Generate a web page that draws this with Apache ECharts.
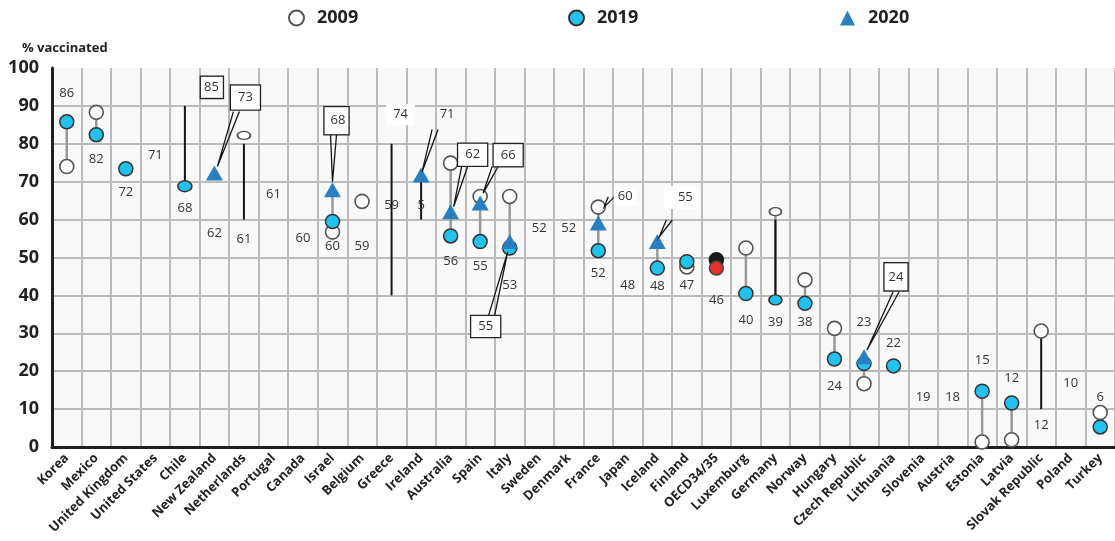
<!DOCTYPE html>
<html><head><meta charset="utf-8">
<script src="https://cdn.jsdelivr.net/npm/echarts@6/dist/echarts.min.js"></script>
<style>html,body{margin:0;padding:0;background:#fff}#c{width:1115px;height:541px}</style>
</head><body><div id="c"></div>
<script>
const categories = ['Korea','Mexico','United Kingdom','United States','Chile','New Zealand','Netherlands','Portugal','Canada','Israel','Belgium','Greece','Ireland','Australia','Spain','Italy','Sweden','Denmark','France','Japan','Iceland','Finland','OECD34/35','Luxemburg','Germany','Norway','Hungary','Czech Republic','Lithuania','Slovenia','Austria','Estonia','Latvia','Slovak Republic','Poland','Turkey'];
const v2009 = [74,88.3,null,null,null,null,82.2,null,null,56.7,64.8,null,null,74.9,66.1,66.1,null,null,63.3,null,null,47.5,49.4,52.5,62.1,44.1,31.3,16.7,null,null,null,1.3,1.9,30.6,null,9.1];
const v2019 = [85.8,82.4,73.4,null,68.8,null,null,null,null,59.5,null,null,null,55.7,54.2,52.5,null,null,51.8,null,47.2,48.9,47.2,40.5,38.8,37.9,23.2,22,21.4,null,null,14.7,11.6,null,null,5.3];
const v2020 = [null,null,null,null,null,72.3,null,null,null,67.9,null,null,71.8,62.1,64.4,54.2,null,null,59.1,null,54.2,null,null,null,null,null,null,23.8,null,null,null,null,null,null,null,null];
const valueLabels = ['86','82','72','71','68','62','61','61','60','60','59','59','5','56','55','53','52','52','52','48','48','47','46','40','39','38','24','23','22','19','18','15','12','12','10','6'];
const labelAt = [93.2,76,67.3,77,63,56.3,54.8,66.7,55.1,52.9,52.9,63.9,63.9,48.9,47.6,42.7,57.7,57.7,45.8,42.7,42.3,42.7,38.8,33.5,33,33,15.9,33,27.3,13.2,13.2,22.9,18,5.7,16.9,13.2];
// callout boxes
const calloutCat = [4,5,9,11,12,13,14,15,18,20,27];
const calloutText = ['85','73','68','74','71','62','66','55','60','55','24'];
const calloutAt = [94.9,92.2,86.1,87.7,87.7,77.1,77,31.8,66.1,65.8,44.9];
// leader lines from 2020 markers to callouts
const leaderCat = [5,9,12,13,14,15,18,20,27];
const leaderFrom = [74,70,72.6,63.4,67,51.5,63.3,55.5,25.6];
const leaderTo = [88.5,82.4,83.8,74,74,34.8,66,59.9,40.9];
// black vertical stems
const stemCat = [4,6,11,12,24,33];
const stemLo = [68.8,60,40,60,38.8,10];
const stemHi = [90,80,80,70,60,30.6];
const yTicks = [0,10,20,30,40,50,60,70,80,90,100];

// ---- styling (not data) ----
const FONT = 'Open Sans';
const BLUE = '#24c1ec', TRI = '#2a7fc1';
const calloutStyle = [
  {dx:27, box:true, pad:[3,4,5,3]},
  {dx:31, box:true, pad:[5,7,6,7]},
  {dx:4, box:true, pad:[8,3,6,6]},
  {dx:9, bg:true, pad:[4,7,4,7]},
  {dx:26},
  {dx:22, box:true, pad:[3,7,6,7]},
  {dx:28, box:true, pad:[3,7,6,7]},
  {dx:-24, box:true, pad:[3,7,5,7]},
  {dx:27, bg:true, pad:[3,4,3,4]},
  {dx:24, bg:true, pad:[5,6,5,14]},
  {dx:32, box:true, pad:[7,4,7,4]}
];
const leaderShift = [[3,22],[0,1],[1,14],[3,14],[3,15],[-2,-18],[6,13],[2,12],[3,32]];
const sizeOverride2009 = {6:[13,8], 24:[12,8]};
const sizeOverride2019 = {4:[14,11], 24:[13,10]};

function pts(arr, sizes, extra){
  const out=[];
  arr.forEach((v,i)=>{ if(v==null) return;
    const d={value:[i,v]};
    if(sizes && sizes[i]) d.symbolSize=sizes[i];
    if(extra && extra[i]) Object.assign(d, extra[i]);
    out.push(d);});
  return out;
}
const connectors=[];
categories.forEach((c,i)=>{
  const vals=[v2009[i],v2019[i],v2020[i]].filter(v=>v!=null);
  if(vals.length>=2) connectors.push([i,Math.min(...vals),Math.max(...vals)]);
});

const chart = echarts.init(document.getElementById('c'));
const legendBase = {top:4, itemWidth:15, itemHeight:15, itemGap:0,
  textStyle:{fontFamily:FONT, fontSize:18, fontWeight:'bold', color:'#222', padding:[0,0,0,8]}};
chart.setOption({
  animation:false,
  title:{text:'% vaccinated', left:17, top:37, textStyle:{fontFamily:FONT, fontSize:13, fontWeight:'bold', color:'#222'}},
  legend:[
    Object.assign({}, legendBase, {left:283, data:['2009']}),
    Object.assign({}, legendBase, {left:563, data:['2019']}),
    Object.assign({}, legendBase, {left:835, data:[{name:'2020', icon:'triangle'}]})
  ],
  grid:{left:52, right:0, top:68, bottom:94, show:true, backgroundColor:'#f9f9f9', borderWidth:0},
  xAxis:{type:'category', data:categories, boundaryGap:true,
    axisLine:{lineStyle:{color:'#231f20', width:3}}, axisTick:{show:false},
    splitLine:{show:true, interval:0, lineStyle:{color:'#bcbcbc', width:2}},
    axisLabel:{interval:0, rotate:45, fontFamily:FONT, fontSize:13, fontWeight:'bold', color:'#222', margin:9}},
  yAxis:{type:'value', min:yTicks[0], max:yTicks[yTicks.length-1], interval:yTicks[1]-yTicks[0],
    axisLine:{show:true, lineStyle:{color:'#231f20', width:3}}, axisTick:{show:false},
    splitLine:{show:true, showMaxLine:false, lineStyle:{color:'#bcbcbc', width:2}},
    axisLabel:{fontFamily:FONT, fontSize:18, fontWeight:'bold', color:'#222', margin:13}},
  series:[
    {type:'custom', name:'conn', z:2, silent:true, data:connectors,
      renderItem:(p,api)=>{const a=api.coord([api.value(0),api.value(1)]), b=api.coord([api.value(0),api.value(2)]);
        return {type:'line', shape:{x1:a[0],y1:a[1],x2:b[0],y2:b[1]}, style:{stroke:'#999', lineWidth:2.5}};}},
    {type:'custom', name:'stems', z:2, silent:true, data:stemCat.map((c,i)=>[c,stemLo[i],stemHi[i]]),
      renderItem:(p,api)=>{const a=api.coord([api.value(0),api.value(1)]), b=api.coord([api.value(0),api.value(2)]);
        return {type:'line', shape:{x1:a[0],y1:a[1],x2:b[0],y2:b[1]}, style:{stroke:'#151515', lineWidth:2}};}},
    {type:'scatter', name:'2009', z:3, symbol:'circle', symbolSize:14,
      itemStyle:{color:'#fff', borderColor:'#555', borderWidth:1.6, opacity:1},
      data:pts(v2009, sizeOverride2009, {22:{itemStyle:{color:'#1a1a1a', borderColor:'#1a1a1a'}}})},
    {type:'scatter', name:'2019', z:4, symbol:'circle', symbolSize:14,
      itemStyle:{color:BLUE, borderColor:'#333', borderWidth:1.5, opacity:1},
      data:pts(v2019, sizeOverride2019, {22:{itemStyle:{color:'#e3302a', borderColor:'#444'}}})},
    {type:'scatter', name:'2020', z:5, symbol:'triangle', symbolSize:[17,15],
      itemStyle:{color:TRI, opacity:1}, data:pts(v2020)},
    {type:'custom', name:'leaders', z:6, silent:true, data:leaderCat.map((c,i)=>[c,leaderFrom[i],leaderTo[i]]),
      renderItem:(p,api)=>{const s=leaderShift[p.dataIndex];
        const a=api.coord([api.value(0),api.value(1)]), b=api.coord([api.value(0),api.value(2)]);
        const x1=a[0]+s[0], x2=b[0]+s[1];
        return {type:'polyline', shape:{points:[[x2-3,b[1]],[x1,a[1]],[x2+3,b[1]]]}, style:{stroke:'#151515', lineWidth:1.3, fill:null}};}},
    {type:'custom', name:'labels', z:7, silent:true,
      data:labelAt.map((v,i)=>[i,v]),
      renderItem:(p,api)=>{const a=api.coord([api.value(0),api.value(1)]);
        return {type:'text', x:a[0], y:a[1], style:{text:valueLabels[p.dataIndex], fontFamily:FONT, fontSize:13,
          fill:'#333', align:'center', verticalAlign:'middle'}};}},
    {type:'custom', name:'callouts', z:8, silent:true,
      data:calloutCat.map((c,i)=>[c,calloutAt[i]]),
      renderItem:(p,api)=>{const st=calloutStyle[p.dataIndex]; const a=api.coord([api.value(0),api.value(1)]);
        const pad=st.pad||[0,0,0,0];
        return {type:'text', x:a[0]+st.dx, y:a[1], style:{text:calloutText[p.dataIndex], fontFamily:FONT, fontSize:13,
          fill:'#333', align:'center', verticalAlign:'middle',
          backgroundColor:(st.box||st.bg)?'#fff':null,
          borderColor:st.box?'#222':null, borderWidth:st.box?1.3:0, padding:pad}};}}
  ]
});
</script></body></html>
